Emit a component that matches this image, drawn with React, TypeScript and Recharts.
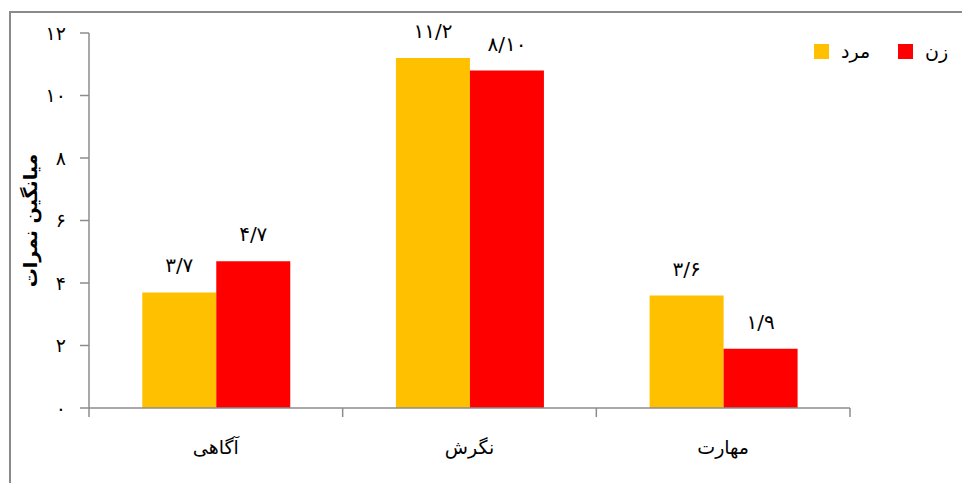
import React from "react";
import { BarChart, Bar, XAxis, YAxis, LabelList } from "recharts";

const categories = ["آگاهی", "نگرش", "مهارت"];
const maleValues = [3.7, 11.2, 3.6];
const femaleValues = [4.7, 10.8, 1.9];
const maleLabels = ["۳/۷", "۱۱/۲", "۳/۶"];
const femaleLabels = ["۴/۷", "۸/۱۰", "۱/۹"];
const yTicks = [0, 2, 4, 6, 8, 10, 12];
const seriesNames = ["مرد", "زن"];

const data = categories.map((c, i) => ({
  name: c,
  male: maleValues[i],
  female: femaleValues[i],
  maleLabel: maleLabels[i],
  femaleLabel: femaleLabels[i],
}));

const FONT = "'DejaVu Sans', sans-serif";
const AXIS = "#8c8c8c";
const MALE = "#FFC000";
const FEMALE = "#FF0000";

const toFa = (n: number) =>
  String(n).replace(/[0-9]/g, (d) => "۰۱۲۳۴۵۶۷۸۹"[Number(d)]);

const YLabel = (props: any) => {
  const vb = props.viewBox || { x: 21, y: 25, width: 60, height: 375 };
  const x = vb.x + 1;
  const y = vb.y + vb.height / 2;
  return (
    <text
      x={x}
      y={y}
      transform={`rotate(-90, ${x}, ${y})`}
      textAnchor="middle"
      dominantBaseline="central"
      fontFamily={FONT}
      fontWeight="bold"
      fontSize={19}
      fill="#000"
    >
      میانگین نمرات
    </text>
  );
};

const XTick = (props: any) => {
  const { x, y, payload, index } = props;
  const half = payload && payload.offset ? payload.offset : 761 / 3 / 2;
  const last = index === categories.length - 1;
  return (
    <g>
      <line x1={x - half} x2={x - half} y1={y} y2={y + 9} stroke={AXIS} strokeWidth={1.5} />
      {last && (
        <line x1={x + half} x2={x + half} y1={y} y2={y + 9} stroke={AXIS} strokeWidth={1.5} />
      )}
      <text
        x={x}
        y={y + 39}
        textAnchor="middle"
        dominantBaseline="central"
        fill="#000"
        fontSize={19}
        fontFamily={FONT}
      >
        {payload.value}
      </text>
    </g>
  );
};

export default function App() {
  return (
    <div style={{ position: "relative", width: 962, height: 475, overflow: "hidden", background: "#fff" }}>
      <div
        style={{
          position: "absolute",
          left: 1,
          top: 3,
          width: 1100,
          height: 1100,
          border: "2px solid #8a8a8a",
          boxSizing: "border-box",
        }}
      />
      <div style={{ position: "absolute", left: 0, top: 0 }}>
        <BarChart
          width={962}
          height={475}
          data={data}
          margin={{ top: 25, right: 120, bottom: 45, left: 21 }}
          barCategoryGap="21%"
          barGap={0}
        >
          <XAxis
            dataKey="name"
            height={30}
            tickSize={0}
            tickMargin={0}
            interval={0}
            tick={<XTick />}
            tickLine={false}
            axisLine={{ stroke: AXIS, strokeWidth: 1.5 }}
          />
          <YAxis
            width={60}
            domain={[0, 12]}
            ticks={yTicks}
            interval={0}
            tickFormatter={toFa}
            tickSize={9}
            tickMargin={14}
            tick={{ fill: "#000", fontSize: 19, fontFamily: FONT }}
            axisLine={{ stroke: AXIS, strokeWidth: 1.5 }}
            tickLine={{ stroke: AXIS, strokeWidth: 1.5 }}
            label={<YLabel />}
          />
          <Bar dataKey="male" name={seriesNames[0]} fill={MALE} isAnimationActive={false}>
            <LabelList
              dataKey="maleLabel"
              position="top"
              offset={20}
              fill="#000"
              fontSize={20}
              fontFamily={FONT}
            />
          </Bar>
          <Bar dataKey="female" name={seriesNames[1]} fill={FEMALE} isAnimationActive={false}>
            <LabelList
              dataKey="femaleLabel"
              position="top"
              offset={20}
              fill="#000"
              fontSize={20}
              fontFamily={FONT}
            />
          </Bar>
        </BarChart>
      </div>
      <div
        style={{
          position: "absolute",
          left: 806,
          top: 32,
          display: "flex",
          alignItems: "center",
          fontFamily: FONT,
          fontSize: 19,
          color: "#000",
        }}
      >
        <span style={{ width: 15, height: 15, background: MALE, display: "inline-block" }} />
        <span style={{ marginLeft: 12, width: 32 }}>{seriesNames[0]}</span>
        <span style={{ marginLeft: 25, width: 15, height: 15, background: FEMALE, display: "inline-block" }} />
        <span style={{ marginLeft: 12 }}>{seriesNames[1]}</span>
      </div>
    </div>
  );
}
